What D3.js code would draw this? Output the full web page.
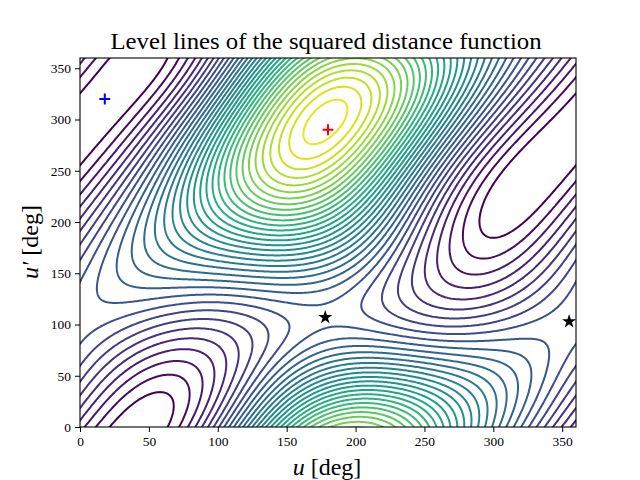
<!DOCTYPE html>
<html><head><meta charset="utf-8">
<script src="https://cdn.jsdelivr.net/npm/d3@7"></script>
<style>html,body{margin:0;padding:0;background:#fff}svg{display:block}text{font-family:"Liberation Serif",serif;fill:#000}</style>
</head><body><svg id="c" width="640" height="480"></svg>
<script>
// Level index at every 30 deg (rows: u', columns: u)
const uSamples=[0,30,60,90,120,150,180,210,240,270,300,330];
const vSamples=[0,30,60,90,120,150,180,210,240,270,300,330];
const row000=[3,0.6,1,5.3,13.5,22.5,28.3,28.7,25,20,14.7,8.4];
const row030=[5.5,2.5,0.95,3.2,9.3,16.5,21.5,21.5,20.5,17.2,13.9,9.9];
const row060=[7.9,5.3,2.6,2.9,6.8,11.2,15.3,16,15.4,14,12.6,10.5];
const row090=[9.3,7.9,5.4,5.3,6.2,8.7,9.6,10.2,9.7,9.7,9.5,10];
const row120=[9.6,9.9,9.7,9.2,9.7,10,9.2,7.8,6.9,5.5,5.3,8];
const row150=[8.6,10.9,12.3,13.3,12.9,14.2,15,9.1,6.2,3.5,3,5.4];
const row180=[6.7,9.9,15.6,17.1,17.7,19,20.3,12.4,7,3.2,1.6,3];
const row210=[4.2,8.3,16.9,20,22,24,25.5,16.5,9.5,4.2,1.2,1];
const row240=[1.2,6,14,21.8,26,29.5,31,21.5,13.5,5.7,3,-0.5];
const row270=[-0.7,3.7,10.4,18.5,27,33,36.3,27.5,18.5,9.2,5.3,0];
const row300=[-1,0.5,7,13.9,22.5,30.5,35,32,24.3,12.7,8.4,3];
const row330=[0.5,-0.8,3.7,9.7,18,27.5,32.5,31.5,27.5,17.5,12,6.1];
const levelTable=[row000,row030,row060,row090,row120,row150,row180,row210,row240,row270,row300,row330];
const levels=[1,2,3,4,5,6,7,8,9,10,11,12,13,14,15,16,17,18,19,20,21,22,23,24,25,26,27,28,29,30,31,32,33,34];
const xTicks=[0,50,100,150,200,250,300,350];
const yTicks=[0,50,100,150,200,250,300,350];
const starU=[178,355], starV=[107,103];
const blueU=[18], blueV=[320];
const redU=[180], redV=[290];

const svg=d3.select("#c");
const x=d3.scaleLinear().domain([0,360]).range([80,576]);
const y=d3.scaleLinear().domain([0,360]).range([427,58]);
const colour=d3.scaleSequential(d3.interpolateViridis).domain([1,35]);

// Smooth the read table on the torus, then sample it finely for d3.contours
const rad=Math.PI/180;
const basis=t=>[1,Math.cos(t*rad),Math.sin(t*rad),Math.cos(2*t*rad),Math.sin(2*t*rad)];
const norm=[12,6,6,6,6];
const C=d3.range(5).map(()=>d3.range(5).map(()=>0));
vSamples.forEach((v,r)=>{const pv=basis(v);uSamples.forEach((u,c)=>{const pu=basis(u);
  for(let a=0;a<5;a++)for(let b=0;b<5;b++)C[a][b]+=levelTable[r][c]*pu[a]*pv[b]/(norm[a]*norm[b]);});});
const margin=6,n=360+2*margin+1;
const B=d3.range(n).map(i=>basis(i-margin));
const field=new Float64Array(n*n);
for(let j=0;j<n;j++)for(let i=0;i<n;i++){let s=0;
  for(let a=0;a<5;a++)for(let b=0;b<5;b++)s+=C[a][b]*B[i][a]*B[j][b];
  field[j*n+i]=s;}
const contours=d3.contours().size([n,n]).smooth(true).thresholds(levels)(field);
const path=d3.geoPath(d3.geoTransform({point(px,py){this.stream.point(x(px-0.5-margin),y(py-0.5-margin));}}));

svg.append("defs").append("clipPath").attr("id","plot").append("rect")
  .attr("x",x(0)).attr("y",y(360)).attr("width",x(360)-x(0)).attr("height",y(0)-y(360));
svg.append("g").attr("clip-path","url(#plot)").selectAll("path").data(contours).join("path")
  .attr("d",path).attr("fill","none").attr("stroke",d=>colour(d.value)).attr("stroke-width",2);

const star=d3.symbol(d3.symbolStar,62)();
svg.append("g").selectAll("path").data(starU).join("path")
  .attr("d",star).attr("fill","#000")
  .attr("transform",(d,i)=>`translate(${x(d)},${y(starV[i])})`);
const plus=d3.symbol(d3.symbolPlus,40)();
svg.append("path").attr("d",plus).attr("fill","none").attr("stroke","#00f").attr("stroke-width",2)
  .attr("transform",`translate(${x(blueU[0])},${y(blueV[0])})`);
svg.append("path").attr("d",plus).attr("fill","none").attr("stroke","#f00").attr("stroke-width",2)
  .attr("transform",`translate(${x(redU[0])},${y(redV[0])})`);

const ax=svg.append("g").attr("transform","translate(0,427)").call(d3.axisBottom(x).tickValues(xTicks).tickSize(5).tickPadding(4));
const ay=svg.append("g").attr("transform","translate(80,0)").call(d3.axisLeft(y).tickValues(yTicks).tickSize(5).tickPadding(4));
[ax,ay].forEach(g=>{g.select(".domain").remove();
  g.selectAll("line").attr("stroke","#000").attr("stroke-width",1);
  g.selectAll("text").attr("font-size",13.5).attr("font-family",'"Liberation Serif",serif');});
svg.append("rect").attr("x",x(0)).attr("y",y(360)).attr("width",x(360)-x(0)).attr("height",y(0)-y(360))
  .attr("fill","none").attr("stroke","#000").attr("stroke-width",1.1);

svg.append("text").attr("x",326).attr("y",49).attr("text-anchor","middle").attr("font-size",24)
  .attr("textLength",431).attr("lengthAdjust","spacingAndGlyphs").text("Level lines of the squared distance function");
const xl=svg.append("text").attr("x",327).attr("y",475).attr("text-anchor","middle").attr("font-size",24);
xl.append("tspan").attr("font-style","italic").text("u");
xl.append("tspan").text(" [deg]");
const yl=svg.append("text").attr("transform","translate(38,242) rotate(-90)").attr("text-anchor","middle").attr("font-size",24);
yl.append("tspan").attr("font-style","italic").text("u′");
yl.append("tspan").text(" [deg]");
</script></body></html>
